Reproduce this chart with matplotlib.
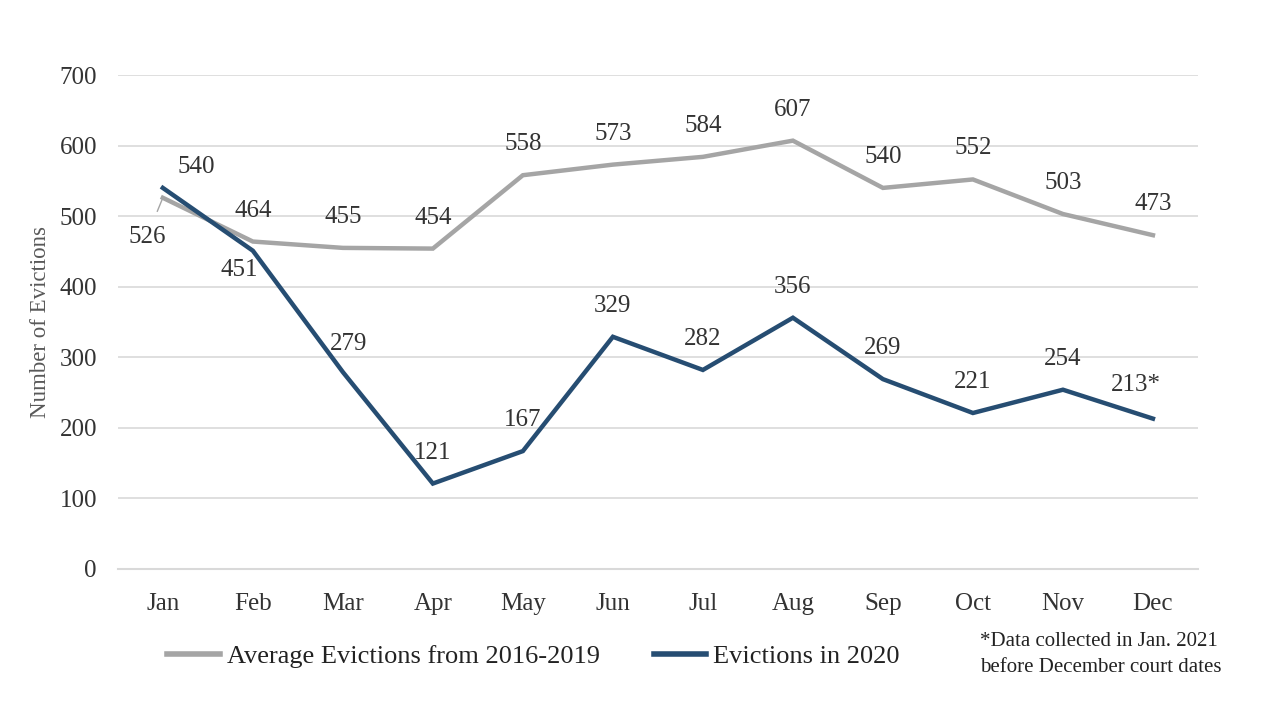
import matplotlib.pyplot as plt
import numpy as np
from matplotlib.lines import Line2D

months = ['Jan', 'Feb', 'Mar', 'Apr', 'May', 'Jun', 'Jul', 'Aug', 'Sep', 'Oct', 'Nov', 'Dec']
avg_2016_2019 = [526, 464, 455, 454, 558, 573, 584, 607, 540, 552, 503, 473]
evictions_2020 = [540, 451, 279, 121, 167, 329, 282, 356, 269, 221, 254, 213]
labels_2020 = [str(v) for v in evictions_2020]
labels_2020[-1] = '213*'

plt.rcParams['font.family'] = ['Liberation Serif', 'DejaVu Serif']

GRAY = '#A5A5A5'
BLUE = '#264D72'
TXT = '#333333'
PX = 0.72  # pixels -> points at dpi 100

fig = plt.figure(figsize=(12.67, 7.05), dpi=100)
ax = fig.add_axes([0.093, 0.193, 0.8525, 0.7006])

x = np.arange(len(months))
ax.plot(x, avg_2016_2019, color=GRAY, lw=3.2, solid_joinstyle='miter', zorder=3)
ax.plot(x, evictions_2020, color=BLUE, lw=3.2, solid_joinstyle='miter', zorder=4)

ax.set_xlim(-0.5, 11.5)
ax.set_ylim(0, 700)
ax.set_yticks(range(0, 701, 100))
ax.set_xticks(x)
ax.set_xticklabels(months)
ax.tick_params(length=0, labelsize=18, colors=TXT)
ax.tick_params(axis='x', pad=17)
ax.tick_params(axis='y', pad=15)
ax.grid(axis='y', color='#D9D9D9', lw=1.2)
ax.axhline(0, color='#D9D9D9', lw=1.5, clip_on=False, zorder=1)
ax.set_axisbelow(True)
for s in ax.spines.values():
    s.set_visible(False)
ax.set_ylabel('Number of Evictions', fontsize=16.5, color='#595959', labelpad=6)

# data labels (offsets in pixels)
def label(i, y, txt, dx=0, dy=31, arrow=False):
    kw = {}
    if arrow:
        kw['arrowprops'] = dict(arrowstyle='-', color=GRAY, lw=1, shrinkA=9, shrinkB=1)
    ax.annotate(txt, (i, y), xytext=(dx * PX, dy * PX), textcoords='offset points',
                ha='center', va='center', fontsize=18, color=TXT, zorder=5, **kw)

for i, v in enumerate(avg_2016_2019):
    if i == 0:
        label(i, v, str(v), -16, -39, arrow=True)
    else:
        label(i, v, str(v))

for i, v in enumerate(evictions_2020):
    if i == 0:
        label(i, v, labels_2020[i], 33, 21)
    elif i == 1:
        label(i, v, labels_2020[i], -14, -19)
    elif i == 2:
        label(i, v, labels_2020[i], 6, 28)
    elif i == 11:
        label(i, v, labels_2020[i], -17, 34)
    else:
        label(i, v, labels_2020[i])

handles = [Line2D([], [], color=GRAY, lw=4), Line2D([], [], color=BLUE, lw=4)]
fig.legend(handles, ['Average Evictions from 2016-2019', 'Evictions in 2020'],
           loc='center left', bbox_to_anchor=(0.113, 0.0695), ncol=2, frameon=False,
           fontsize=19, handlelength=2.0, handletextpad=0.26, columnspacing=2.05,
           labelcolor='#222222')

fig.text(0.7735, 0.071, '*Data collected in Jan. 2021\nbefore December court dates',
         fontsize=15, color='#222222', va='center', ha='left', linespacing=1.5)

fig.savefig('out.png', dpi=100)
